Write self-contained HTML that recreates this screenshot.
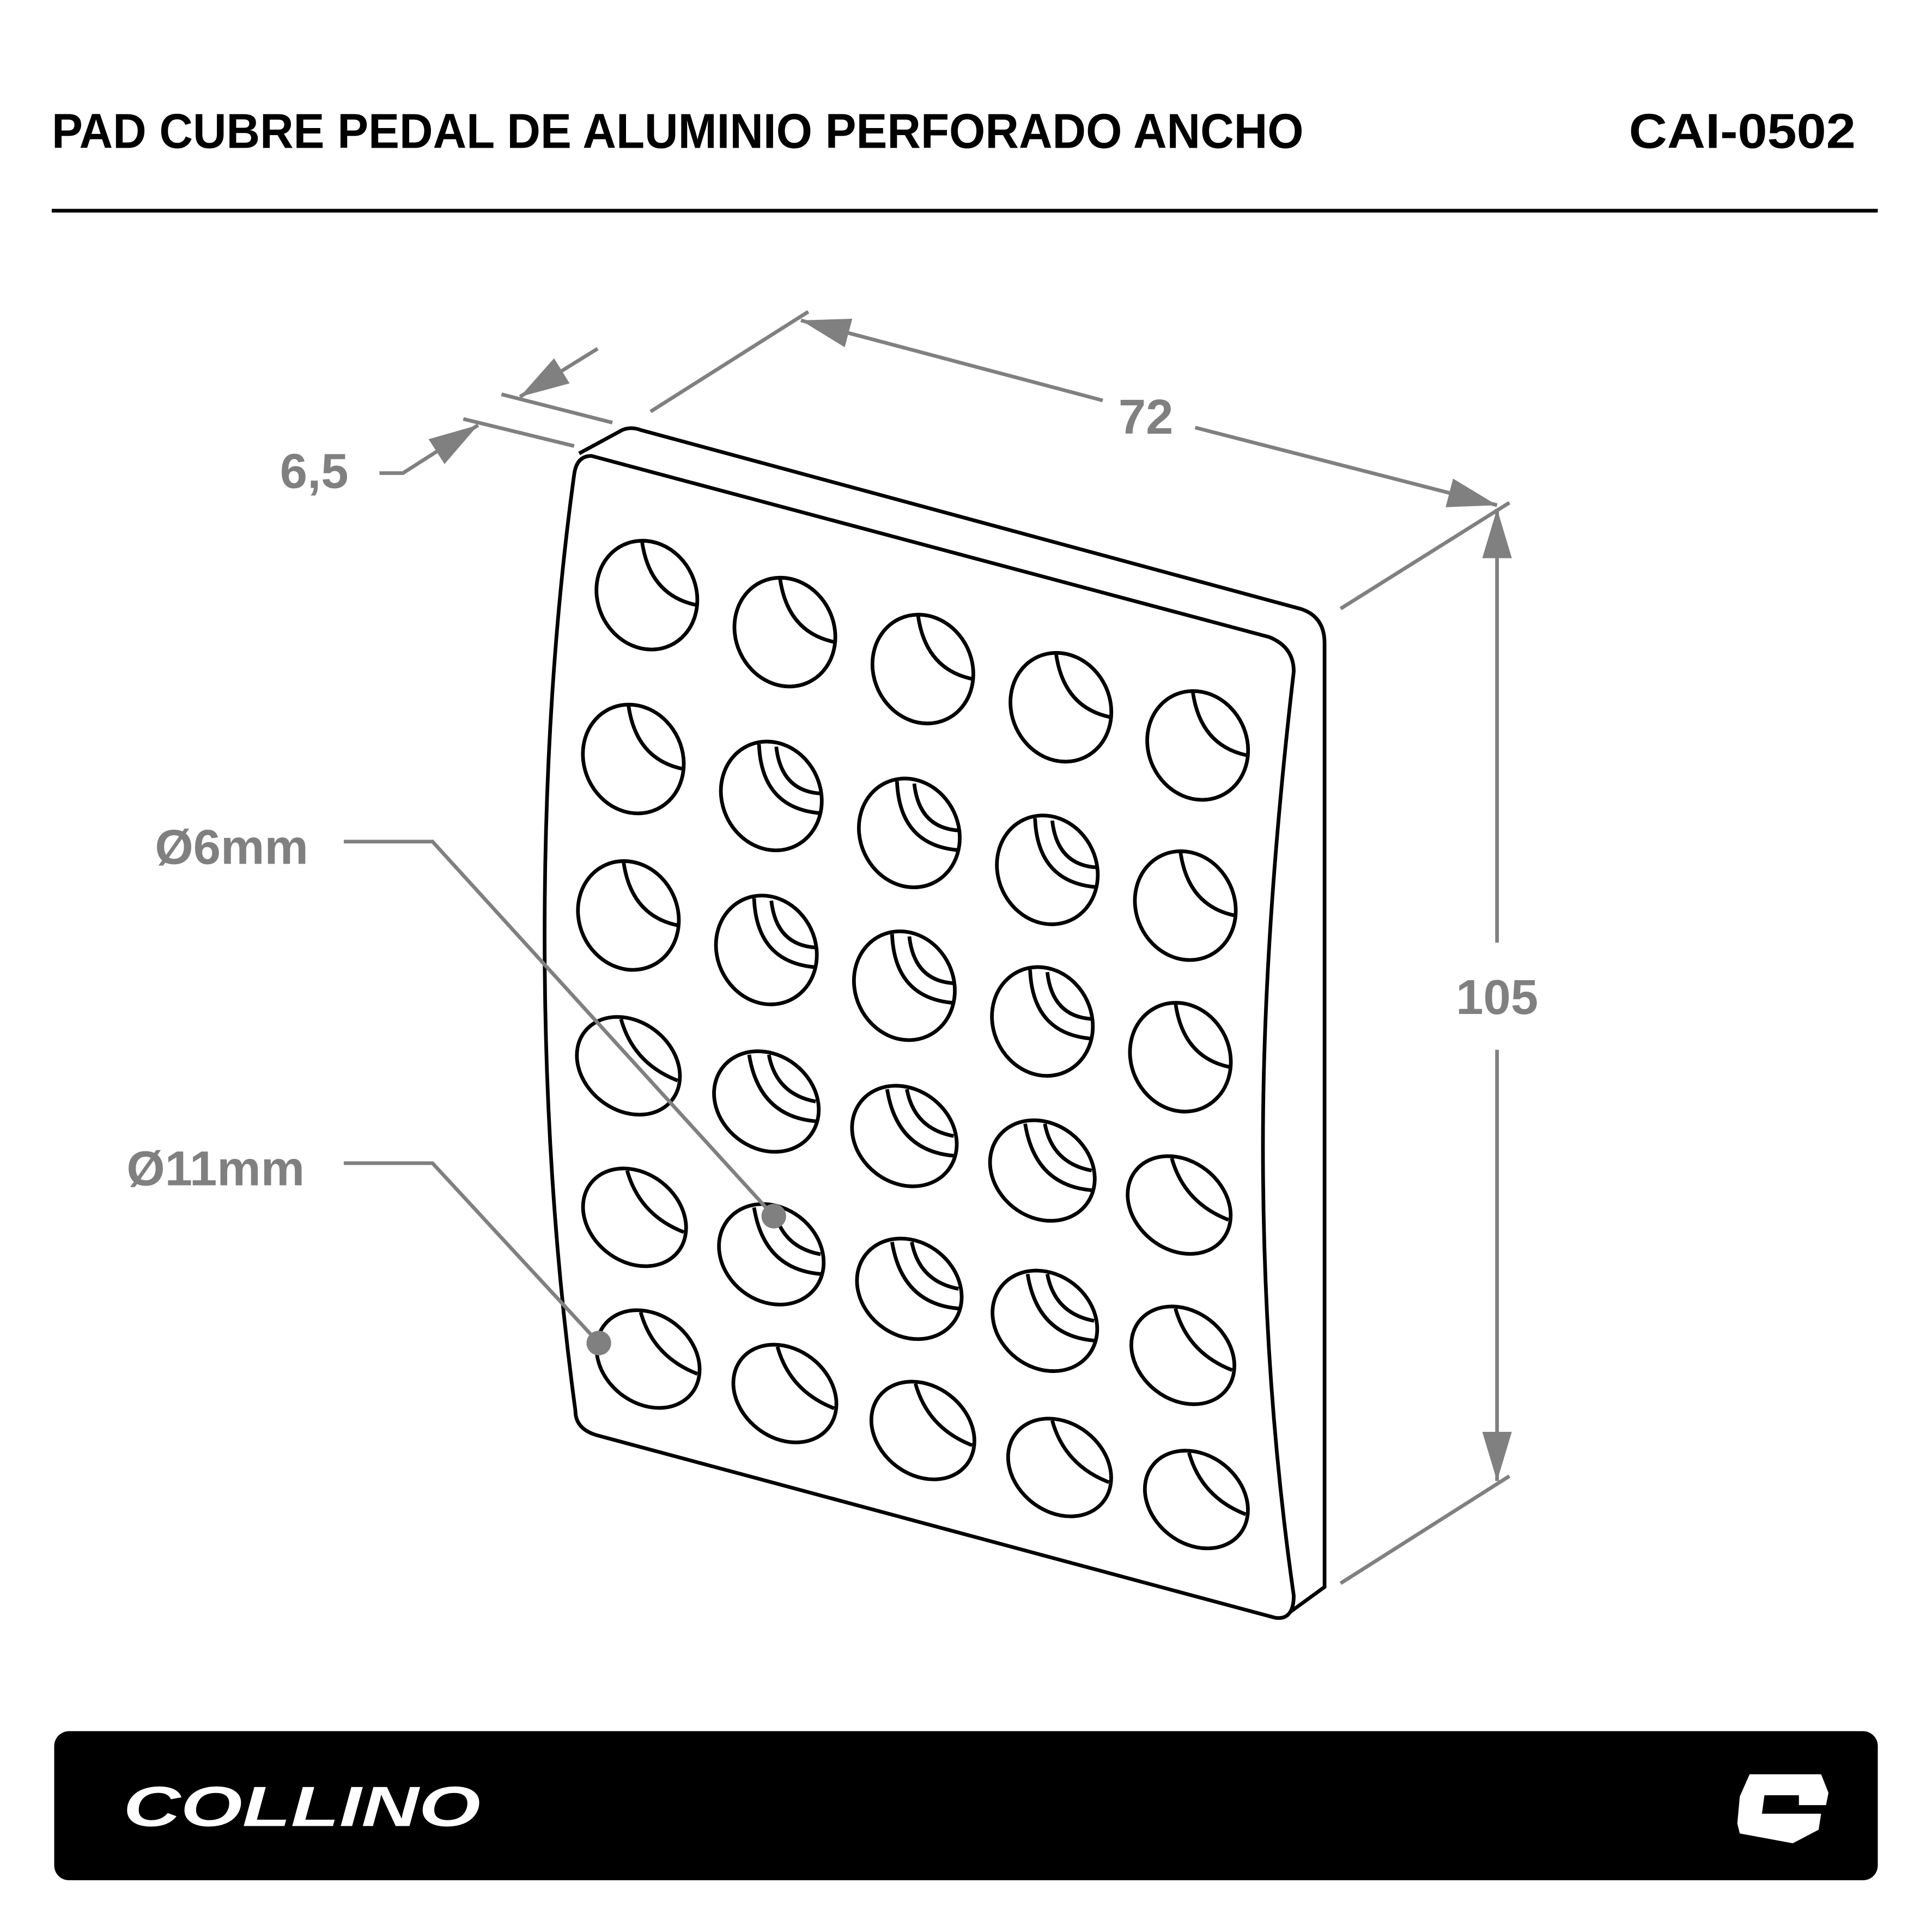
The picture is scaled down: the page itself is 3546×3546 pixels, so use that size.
<!DOCTYPE html>
<html><head><meta charset="utf-8"><style>
html,body{margin:0;padding:0;background:#fff}
svg{display:block}
</style></head><body>
<svg width="3546" height="3546" viewBox="0 0 1568 1568" xmlns="http://www.w3.org/2000/svg">
<defs>
<marker id="arb" viewBox="0 0 40 24" refX="40" refY="12" markerWidth="40" markerHeight="24" markerUnits="userSpaceOnUse" orient="auto"><path d="M0,0 L40,12 L0,24z" fill="#808080"/></marker>
<g id="h" fill="none" stroke="#000" stroke-width="3">
<ellipse cx="0" cy="0" rx="40" ry="45" transform="rotate(-25)"/>
<path d="M-4,-44 Q2,0 40,8"/>
</g>
<g id="hi" fill="none" stroke="#000" stroke-width="3">
<ellipse cx="0" cy="0" rx="40" ry="45" transform="rotate(-25)"/>
<path d="M-10,-42 Q-8,10 40,14"/>
<path d="M4,-40 Q8,-4 40,-2"/>
</g>
<g id="h2" fill="none" stroke="#000" stroke-width="3">
<ellipse cx="0" cy="0" rx="45" ry="36" transform="rotate(38)"/>
<path d="M-6,-38 Q4,-2 40,12"/>
</g>
<g id="hi2" fill="none" stroke="#000" stroke-width="3">
<ellipse cx="0" cy="0" rx="45" ry="38" transform="rotate(38)"/>
<path d="M-14,-38 Q-6,12 40,16"/>
<path d="M2,-38 Q8,-6 40,0"/>
</g>
</defs>
<rect width="1568" height="1568" fill="#fff"/>
<text x="42" y="120" font-family="Liberation Sans, sans-serif" font-weight="bold" font-size="40" textLength="1016" lengthAdjust="spacingAndGlyphs">PAD CUBRE PEDAL DE ALUMINIO PERFORADO ANCHO</text>
<text x="1322" y="120" font-family="Liberation Sans, sans-serif" font-weight="bold" font-size="40" textLength="184" lengthAdjust="spacingAndGlyphs">CAI-0502</text>
<rect x="42" y="169.5" width="1482" height="3" fill="#000"/>

<path d="M470,368 L505,349 Q512,346 520,349 L1055,494 Q1075,500 1075,522 L1075,1288 L1042,1312" fill="none" stroke="#000" stroke-width="3"/>
<path d="M480,370 L1030,517 Q1050,525 1050,545 Q1025,760 1025,930 Q1025,1120 1050,1295 Q1050,1315 1035,1313 L485,1165 Q467,1160 467,1145 Q442,960 442,760 Q442,560 466,385 Q468,370 480,370 Z" fill="#fff" stroke="#000" stroke-width="3"/>

<use href="#h" transform="translate(525,483)"/>
<use href="#h" transform="translate(637,513)"/>
<use href="#h" transform="translate(749,543)"/>
<use href="#h" transform="translate(861,574)"/>
<use href="#h" transform="translate(972,605)"/>

<use href="#h" transform="translate(514,616)"/>
<use href="#hi" transform="translate(626,646)"/>
<use href="#hi" transform="translate(738,676)"/>
<use href="#hi" transform="translate(850,706)"/>
<use href="#h" transform="translate(962,735)"/>

<use href="#h" transform="translate(510,743)"/>
<use href="#hi" transform="translate(622,771)"/>
<use href="#hi" transform="translate(734,800)"/>
<use href="#hi" transform="translate(846,829)"/>
<use href="#h" transform="translate(958,858)"/>

<use href="#h2" transform="translate(510,865)"/>
<use href="#hi2" transform="translate(622,894)"/>
<use href="#hi2" transform="translate(734,922)"/>
<use href="#hi2" transform="translate(846,950)"/>
<use href="#h2" transform="translate(957,978)"/>

<use href="#h2" transform="translate(515,988)"/>
<use href="#hi2" transform="translate(626,1018)"/>
<use href="#hi2" transform="translate(738,1046)"/>
<use href="#hi2" transform="translate(848,1072)"/>
<use href="#h2" transform="translate(960,1100)"/>

<use href="#h2" transform="translate(526,1103)"/>
<use href="#h2" transform="translate(637,1131)"/>
<use href="#h2" transform="translate(749,1161)"/>
<use href="#h2" transform="translate(860,1191)"/>
<use href="#h2" transform="translate(971,1217)"/>

<g stroke="#808080" stroke-width="3" fill="none">
<line x1="528" y1="334" x2="656" y2="253"/>
<line x1="895" y1="325" x2="650" y2="260" marker-end="url(#arb)"/>
<line x1="970" y1="347" x2="1215" y2="410" marker-end="url(#arb)"/>
<line x1="1088" y1="494" x2="1225" y2="408"/>
<line x1="1088" y1="1285" x2="1225" y2="1198"/>
<line x1="1215" y1="765" x2="1215" y2="413" marker-end="url(#arb)"/>
<line x1="1215" y1="852" x2="1215" y2="1202" marker-end="url(#arb)"/>
<line x1="407" y1="320" x2="497" y2="343"/>
<line x1="376" y1="340" x2="466" y2="362"/>
<line x1="485" y1="283" x2="422" y2="322" marker-end="url(#arb)"/>
<polyline points="308,384 327,384 388,345" marker-end="url(#arb)"/>
<polyline points="279,683 351,683 628,987"/>
<polyline points="279,944 351,944 486,1090"/>
</g>
<circle cx="628" cy="987" r="10" fill="#808080"/>
<circle cx="486" cy="1090" r="10" fill="#808080"/>
<g font-family="Liberation Sans, sans-serif" font-weight="bold" font-size="40" fill="#808080" text-anchor="middle">
<text x="930" y="352">72</text>
<text x="1215" y="823">105</text>
<text x="255" y="396">6,5</text>
<text x="188" y="701">Ø6mm</text>
<text x="175" y="962">Ø11mm</text>
</g>

<rect x="44" y="1405" width="1480" height="121" rx="12" fill="#000"/>
<text x="100" y="1482" font-family="Liberation Sans, sans-serif" font-weight="bold" font-style="italic" font-size="46" fill="#fff" textLength="290" lengthAdjust="spacingAndGlyphs">COLLINO</text>
<path d="M1420,1440 L1478,1440 L1484,1455 L1482,1465 L1460,1465 L1460,1457 L1432,1457 L1430,1472 L1478,1472 L1476,1485 L1455,1496 L1412,1488 L1410,1480 L1412,1458 Z" fill="#fff"/>
</svg>
</body></html>
